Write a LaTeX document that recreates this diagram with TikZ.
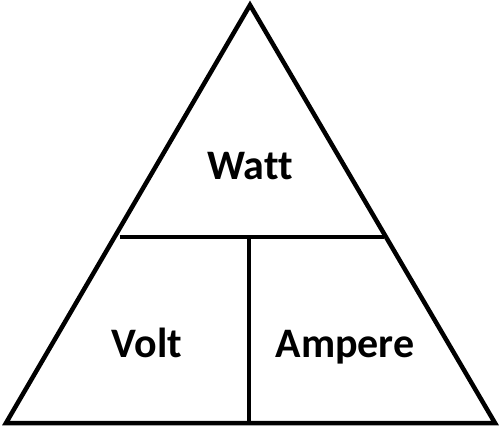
\documentclass[tikz,border=0pt]{standalone}
\usepackage{fontspec}
\setmainfont[Ligatures=NoCommon]{Carlito}
\begin{document}
\begin{tikzpicture}[x=1pt,y=-1pt,
  edge/.style={line width=4.5pt,line join=miter,black},
  lbl/.style={font=\fontsize{42}{46}\selectfont\bfseries,anchor=base,inner sep=0pt}]
\useasboundingbox (0,0) rectangle (502,432);
\coordinate (A) at (250,5);
\coordinate (L) at (6,423);
\coordinate (R) at (495,423);
\coordinate (ML) at (119.5,237);
\coordinate (MR) at (384,237);
\coordinate (MT) at (249,237);
\coordinate (MB) at (249,423);
\draw[edge] (A) -- (L) -- (R) -- cycle;
\draw[edge] (ML) -- (MR);
\draw[edge] (MT) -- (MB);
\node[lbl] (watt) at (250,179) {Watt};
\node[lbl] (volt) at (147,357) {Volt};
\node[lbl] (amp) at (345,357) {Ampere};
\end{tikzpicture}
\end{document}
